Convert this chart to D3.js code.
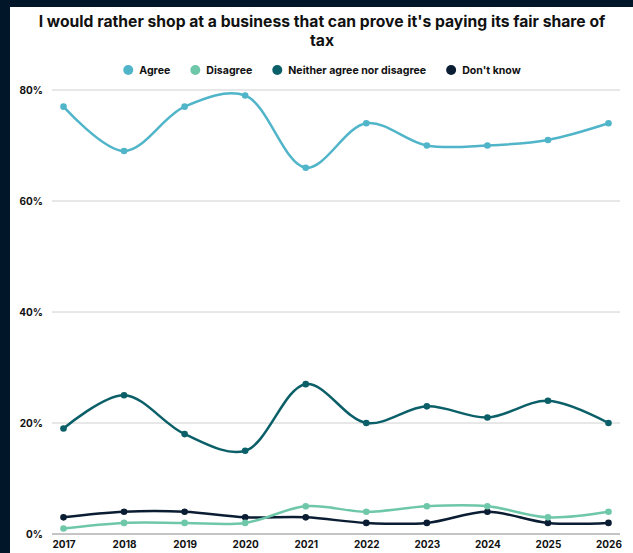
<!DOCTYPE html>
<html>
<head>
<meta charset="utf-8">
<script src="https://cdn.jsdelivr.net/npm/d3@7"></script>
<style>
  html, body { margin: 0; padding: 0; background: #021629; }
  svg { display: block; }
  text { font-family: Inter, "DejaVu Sans", sans-serif; }
</style>
</head>
<body>
<svg id="chart" width="633" height="553"></svg>
<script>
const years = ["2017","2018","2019","2020","2021","2022","2023","2024","2025","2026"];
const agree    = [77, 69, 77, 79, 66, 74, 70, 70, 71, 74];
const disagree = [1, 2, 2, 2, 5, 4, 5, 5, 3, 4];
const neither  = [19, 25, 18, 15, 27, 20, 23, 21, 24, 20];
const dontKnow = [3, 4, 4, 3, 3, 2, 2, 4, 2, 2];
const seriesNames = ["Agree", "Disagree", "Neither agree nor disagree", "Don't know"];
const seriesColors = ["#50b5c9", "#6fc7aa", "#0b5f68", "#0a1d33"];
const yTicks = [0, 20, 40, 60, 80];

const series = [agree, disagree, neither, dontKnow].map((vals, i) => ({
  name: seriesNames[i], color: seriesColors[i], values: vals
}));

const W = 633, H = 553;
const svg = d3.select("#chart");

// white card on dark page
svg.append("rect").attr("x", 10).attr("y", 7).attr("width", W - 10).attr("height", H - 7).attr("fill", "#ffffff");

const plot = { left: 52, right: 620, top: 90, bottom: 534 };

const x = d3.scalePoint().domain(years).range([plot.left, plot.right]).padding(0.19);
const y = d3.scaleLinear().domain([0, 80]).range([plot.bottom, plot.top]);

// title
const title = svg.append("text").attr("text-anchor", "middle")
  .attr("font-size", 15.7).attr("font-weight", 700).attr("fill", "#111");
title.append("tspan").attr("x", 322).attr("y", 27).text("I would rather shop at a business that can prove it's paying its fair share of");
title.append("tspan").attr("x", 322).attr("y", 46).text("tax");

// legend: items laid out from measured text widths, centred as a group
const lg = svg.append("g");
const items = series.map(s => {
  const g = lg.append("g");
  g.append("circle").attr("cx", 0).attr("cy", 70).attr("r", 5).attr("fill", s.color);
  const t = g.append("text").attr("x", 11).attr("y", 73.8)
    .attr("font-size", 10.6).attr("font-weight", 700).attr("fill", "#111").text(s.name);
  return { g, w: 11 + t.node().getComputedTextLength() };
});
const gap = 25;
const total = d3.sum(items, d => d.w) + gap * (items.length - 1) + 5;
let cursor = 322 - total / 2 + 5;
items.forEach(it => {
  it.g.attr("transform", `translate(${cursor},0)`);
  cursor += it.w + gap;
});

// gridlines
const grid = svg.append("g");
yTicks.forEach(t => {
  grid.append("line").attr("x1", plot.left).attr("x2", plot.right)
    .attr("y1", y(t)).attr("y2", y(t))
    .attr("stroke", t === 0 ? "#8a8a8a" : "#d0d0d0").attr("stroke-width", 1);
});

// y axis labels
const yAxis = d3.axisLeft(y).tickValues(yTicks).tickFormat(d => d + "%").tickSize(0).tickPadding(9);
const yg = svg.append("g").attr("transform", `translate(${plot.left},0)`).call(yAxis);
yg.select(".domain").remove();
yg.selectAll("text").attr("font-size", 10).attr("font-weight", 700).attr("fill", "#111")
  .attr("font-family", "Inter, 'DejaVu Sans', sans-serif");

// x axis labels
const xAxis = d3.axisBottom(x).tickSize(0).tickPadding(7);
const xg = svg.append("g").attr("transform", `translate(0,${plot.bottom})`).call(xAxis);
xg.select(".domain").remove();
xg.selectAll("text").attr("font-size", 10).attr("font-weight", 700).attr("fill", "#111")
  .attr("font-family", "Inter, 'DejaVu Sans', sans-serif");

// lines and markers
const line = d3.line().x((d, i) => x(years[i])).y(d => y(d)).curve(d3.curveCatmullRom.alpha(0.5));
series.slice().reverse().forEach(s => {
  const g = svg.append("g");
  g.append("path").attr("d", line(s.values)).attr("fill", "none")
    .attr("stroke", s.color).attr("stroke-width", 2.5);
  g.selectAll("circle").data(s.values).join("circle")
    .attr("cx", (d, i) => x(years[i])).attr("cy", d => y(d)).attr("r", 3.3).attr("fill", s.color);
});
</script>
</body>
</html>
